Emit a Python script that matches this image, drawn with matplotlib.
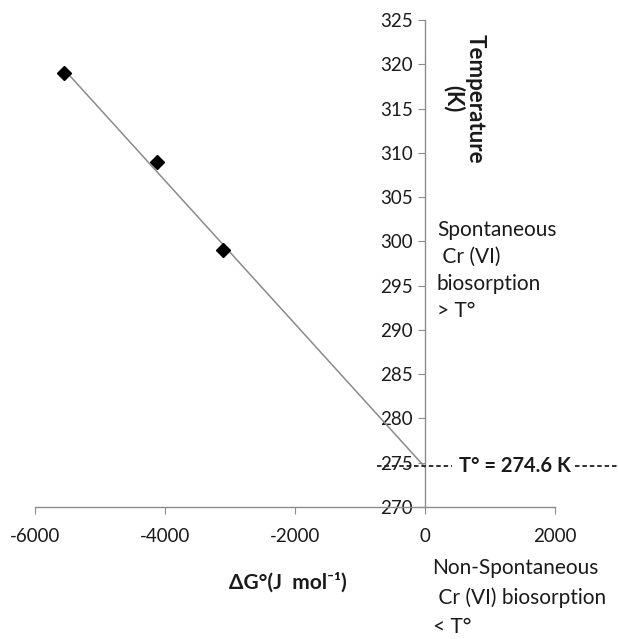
import numpy as np
import matplotlib
matplotlib.use("Agg")
import matplotlib.pyplot as plt

plt.rcParams['font.family'] = ['Lato', 'DejaVu Sans']
plt.rcParams['axes.unicode_minus'] = False

# free energy (J/mol) and temperature (K)
delta_g = [-5560, -4130, -3110]
temp_k = [319, 309, 299]
t_zero = 274.6

x_ticks = [-6000, -4000, -2000, 0, 2000]
y_ticks = [270, 275, 280, 285, 290, 295, 300, 305, 310, 315, 320, 325]

fig = plt.figure(figsize=(6.18, 6.39), dpi=100)
ax = fig.add_axes([0.057, 0.2066, 0.841, 0.762])

# linear fit of T against dG, drawn from the first point to dG = 0
a, b = np.polyfit(delta_g, temp_k, 1)
fit_x = np.array([min(delta_g), 0])
ax.plot(fit_x, a * fit_x + b, color='#8a8a8a', lw=1.1, zorder=2)
ax.plot(delta_g, temp_k, ls='none', marker='D', ms=7.5, color='black', zorder=3)

ax.set_xlim(-6000, 2000)
ax.set_ylim(270, 325)
ax.set_xticks(x_ticks)
ax.set_yticks(y_ticks)

ax.spines['left'].set_position(('data', 0))
ax.spines['right'].set_visible(False)
ax.spines['top'].set_visible(False)
for s in ('left', 'bottom'):
    ax.spines[s].set_color('#8c8c8c')
    ax.spines[s].set_linewidth(1.0)
ax.tick_params(axis='both', direction='out', length=5, color='#8c8c8c',
               labelsize=13.5, labelcolor='#1a1a1a')
ax.tick_params(axis='x', pad=10)

# T0 dashed marker, with the label breaking the line
ax.plot([-740, 415], [t_zero, t_zero], color='#222222', lw=1.3,
        ls=(0, (2.5, 1.6)), clip_on=False, zorder=4)
ax.plot([2307, 2990], [t_zero, t_zero], color='#222222', lw=1.3,
        ls=(0, (2.5, 1.6)), clip_on=False, zorder=4)
ax.text(1377, t_zero, 'T\u00b0 = %.1f K' % t_zero, ha='center', va='center',
        fontsize=14.5, fontweight='bold', color='#1a1a1a')

ax.text(0.826, 0.972, 'Temperature\n(K)', transform=ax.transAxes, rotation=270,
        ha='center', va='top', multialignment='center', fontsize=16,
        fontweight='bold', color='#1a1a1a', linespacing=1.0)

ax.text(0.773, 0.59, 'Spontaneous\n Cr (VI)\nbiosorption\n> T\u00b0',
        transform=ax.transAxes, ha='left', va='top', fontsize=15,
        color='#1a1a1a', linespacing=1.45)

fig.text(0.466, 0.089, '\u0394G\u00b0(J  mol\u207b\u00b9)', ha='center', va='center',
         fontsize=15, fontweight='bold', color='#1a1a1a')
fig.text(0.700, 0.126, 'Non-Spontaneous\n Cr (VI) biosorption\n< T\u00b0',
         ha='left', va='top', fontsize=15, color='#1a1a1a', linespacing=1.55)

fig.savefig('out.png', dpi=100)
